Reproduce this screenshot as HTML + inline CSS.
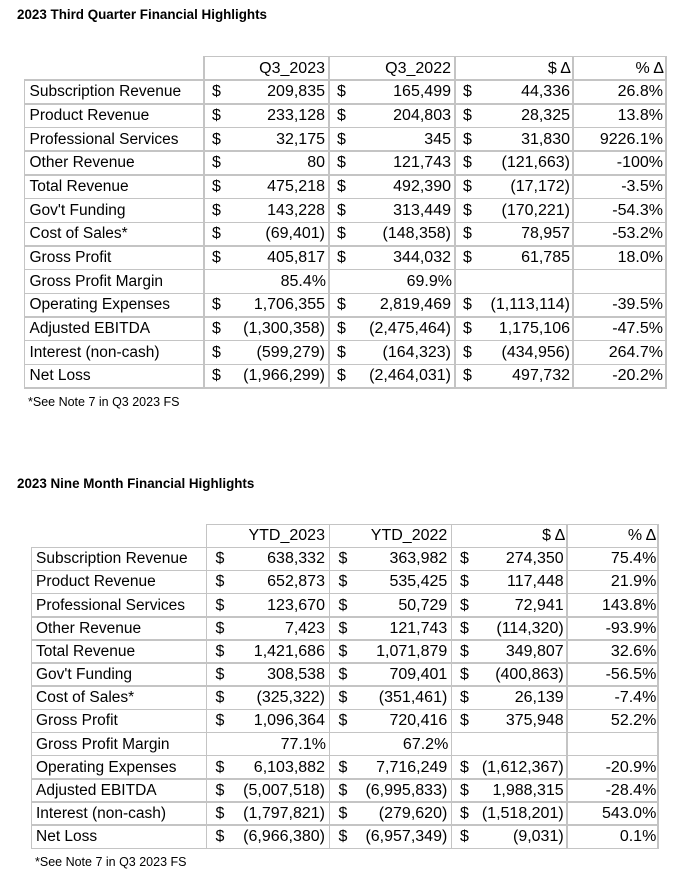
<!DOCTYPE html>
<html>
<head>
<meta charset="utf-8">
<style>
html,body{margin:0;padding:0;background:#fff;}
body{width:686px;height:878px;position:relative;overflow:hidden;font-family:"Liberation Sans",Arial,sans-serif;color:#000;}
.title{position:absolute;left:17px;font-weight:bold;font-size:13.4px;line-height:16px;white-space:nowrap;color:#000;}
.note{position:absolute;font-size:12.5px;line-height:16px;white-space:nowrap;color:#000;}
.hl{position:absolute;height:1.5px;background:#c4c4c4;}
.vl{position:absolute;width:1.5px;background:#c4c4c4;}
.row{position:absolute;left:0;width:686px;}
.row span{position:absolute;top:0;white-space:nowrap;font-size:16px;}
.row span.a{font-size:15.5px;}
.row span.r{text-align:right;}
.q{padding-right:5.3px;}
/* table 1 */
.T1 .a{left:29.5px;}
.T1 .s1{left:212px;}
.T1 .n1{left:204px;width:121px;}
.T1 .s2{left:337px;}
.T1 .n2{left:329px;width:122px;}
.T1 .s3{left:463px;}
.T1 .n3{left:455px;width:115px;}
.T1 .p{left:573px;width:90px;}
.T1 .h3{left:455px;width:116px;}
.T1 .h4{left:573px;width:91px;}
.T1 .row{height:23.68px;line-height:23.68px;}
/* table 2 */
.T2 .a{left:36px;}
.T2 .s1{left:215.5px;}
.T2 .n1{left:206.7px;width:118.3px;}
.T2 .s2{left:338.5px;}
.T2 .n2{left:329.5px;width:117.8px;}
.T2 .s3{left:460px;}
.T2 .n3{left:451.3px;width:112.4px;}
.T2 .p{left:567px;width:89.3px;}
.T2 .h3{left:451.3px;width:114px;}
.T2 .h4{left:567px;width:89.3px;}
.T2 .row{height:23.15px;line-height:23.15px;}
</style>
</head>
<body>

<div class="title" style="top:7px;">2023 Third Quarter Financial Highlights</div>

<div class="T1">
  <div class="hl" style="top:55.75px;left:203.25px;width:463.5px;"></div>
  <div class="hl" style="top:79.43px;left:23.75px;width:643px;"></div>
  <div class="hl" style="top:103.11px;left:23.75px;width:643px;"></div>
  <div class="hl" style="top:126.79px;left:23.75px;width:643px;"></div>
  <div class="hl" style="top:150.47px;left:23.75px;width:643px;"></div>
  <div class="hl" style="top:174.15px;left:23.75px;width:643px;"></div>
  <div class="hl" style="top:197.83px;left:23.75px;width:643px;"></div>
  <div class="hl" style="top:221.51px;left:23.75px;width:643px;"></div>
  <div class="hl" style="top:245.19px;left:23.75px;width:643px;"></div>
  <div class="hl" style="top:268.87px;left:23.75px;width:643px;"></div>
  <div class="hl" style="top:292.55px;left:23.75px;width:643px;"></div>
  <div class="hl" style="top:316.23px;left:23.75px;width:643px;"></div>
  <div class="hl" style="top:339.91px;left:23.75px;width:643px;"></div>
  <div class="hl" style="top:363.59px;left:23.75px;width:643px;"></div>
  <div class="hl" style="top:387.27px;left:23.75px;width:643px;"></div>
  <div class="vl" style="left:23.75px;top:80.18px;height:308.6px;"></div>
  <div class="vl" style="left:203.25px;top:56.5px;height:332.3px;"></div>
  <div class="vl" style="left:328.25px;top:56.5px;height:332.3px;"></div>
  <div class="vl" style="left:454.25px;top:56.5px;height:332.3px;"></div>
  <div class="vl" style="left:572.25px;top:56.5px;height:332.3px;"></div>
  <div class="vl" style="left:665.25px;top:56.5px;height:332.3px;"></div>

  <div class="row" style="top:56.5px;"><span class="r n1">Q3_2023</span><span class="r n2">Q3_2022</span><span class="r h3">$ Δ</span><span class="r h4">% Δ</span></div>
  <div class="row" style="top:80.18px;"><span class="a">Subscription Revenue</span><span class="s1">$</span><span class="r n1 q">209,835</span><span class="s2">$</span><span class="r n2 q">165,499</span><span class="s3">$</span><span class="r n3 q">44,336</span><span class="r p">26.8%</span></div>
  <div class="row" style="top:103.86px;"><span class="a">Product Revenue</span><span class="s1">$</span><span class="r n1 q">233,128</span><span class="s2">$</span><span class="r n2 q">204,803</span><span class="s3">$</span><span class="r n3 q">28,325</span><span class="r p">13.8%</span></div>
  <div class="row" style="top:127.54px;"><span class="a">Professional Services</span><span class="s1">$</span><span class="r n1 q">32,175</span><span class="s2">$</span><span class="r n2 q">345</span><span class="s3">$</span><span class="r n3 q">31,830</span><span class="r p">9226.1%</span></div>
  <div class="row" style="top:151.22px;"><span class="a">Other Revenue</span><span class="s1">$</span><span class="r n1 q">80</span><span class="s2">$</span><span class="r n2 q">121,743</span><span class="s3">$</span><span class="r n3">(121,663)</span><span class="r p">-100%</span></div>
  <div class="row" style="top:174.9px;"><span class="a">Total Revenue</span><span class="s1">$</span><span class="r n1 q">475,218</span><span class="s2">$</span><span class="r n2 q">492,390</span><span class="s3">$</span><span class="r n3">(17,172)</span><span class="r p">-3.5%</span></div>
  <div class="row" style="top:198.58px;"><span class="a">Gov't Funding</span><span class="s1">$</span><span class="r n1 q">143,228</span><span class="s2">$</span><span class="r n2 q">313,449</span><span class="s3">$</span><span class="r n3">(170,221)</span><span class="r p">-54.3%</span></div>
  <div class="row" style="top:222.26px;"><span class="a">Cost of Sales*</span><span class="s1">$</span><span class="r n1">(69,401)</span><span class="s2">$</span><span class="r n2">(148,358)</span><span class="s3">$</span><span class="r n3 q">78,957</span><span class="r p">-53.2%</span></div>
  <div class="row" style="top:245.94px;"><span class="a">Gross Profit</span><span class="s1">$</span><span class="r n1 q">405,817</span><span class="s2">$</span><span class="r n2 q">344,032</span><span class="s3">$</span><span class="r n3 q">61,785</span><span class="r p">18.0%</span></div>
  <div class="row" style="top:269.62px;"><span class="a">Gross Profit Margin</span><span class="r n1" style="width:122px;">85.4%</span><span class="r n2" style="width:123px;">69.9%</span></div>
  <div class="row" style="top:293.3px;"><span class="a">Operating Expenses</span><span class="s1">$</span><span class="r n1 q">1,706,355</span><span class="s2">$</span><span class="r n2 q">2,819,469</span><span class="s3">$</span><span class="r n3">(1,113,114)</span><span class="r p">-39.5%</span></div>
  <div class="row" style="top:316.98px;"><span class="a">Adjusted EBITDA</span><span class="s1">$</span><span class="r n1">(1,300,358)</span><span class="s2">$</span><span class="r n2">(2,475,464)</span><span class="s3">$</span><span class="r n3 q">1,175,106</span><span class="r p">-47.5%</span></div>
  <div class="row" style="top:340.66px;"><span class="a">Interest (non-cash)</span><span class="s1">$</span><span class="r n1">(599,279)</span><span class="s2">$</span><span class="r n2">(164,323)</span><span class="s3">$</span><span class="r n3">(434,956)</span><span class="r p">264.7%</span></div>
  <div class="row" style="top:364.34px;"><span class="a">Net Loss</span><span class="s1">$</span><span class="r n1">(1,966,299)</span><span class="s2">$</span><span class="r n2">(2,464,031)</span><span class="s3">$</span><span class="r n3 q">497,732</span><span class="r p">-20.2%</span></div>
</div>

<div class="note" style="left:28px;top:394px;">*See Note 7 in Q3 2023 FS</div>

<div class="title" style="top:476px;">2023 Nine Month Financial Highlights</div>

<div class="T2">
  <div class="hl" style="top:523.55px;left:205.95px;width:452.8px;"></div>
  <div class="hl" style="top:546.55px;left:30.95px;width:627.8px;"></div>
  <div class="hl" style="top:569.7px;left:30.95px;width:627.8px;"></div>
  <div class="hl" style="top:592.85px;left:30.95px;width:627.8px;"></div>
  <div class="hl" style="top:616px;left:30.95px;width:627.8px;"></div>
  <div class="hl" style="top:639.15px;left:30.95px;width:627.8px;"></div>
  <div class="hl" style="top:662.3px;left:30.95px;width:627.8px;"></div>
  <div class="hl" style="top:685.45px;left:30.95px;width:627.8px;"></div>
  <div class="hl" style="top:708.6px;left:30.95px;width:627.8px;"></div>
  <div class="hl" style="top:731.75px;left:30.95px;width:627.8px;"></div>
  <div class="hl" style="top:754.9px;left:30.95px;width:627.8px;"></div>
  <div class="hl" style="top:778.05px;left:30.95px;width:627.8px;"></div>
  <div class="hl" style="top:801.2px;left:30.95px;width:627.8px;"></div>
  <div class="hl" style="top:824.35px;left:30.95px;width:627.8px;"></div>
  <div class="hl" style="top:847.5px;left:30.95px;width:627.8px;"></div>
  <div class="vl" style="left:30.95px;top:547.3px;height:301.7px;"></div>
  <div class="vl" style="left:205.95px;top:524.3px;height:324.7px;"></div>
  <div class="vl" style="left:328.75px;top:524.3px;height:324.7px;"></div>
  <div class="vl" style="left:450.55px;top:524.3px;height:324.7px;"></div>
  <div class="vl" style="left:566.25px;top:524.3px;height:324.7px;"></div>
  <div class="vl" style="left:657.25px;top:524.3px;height:324.7px;"></div>

  <div class="row" style="top:524.3px;height:23px;line-height:23px;"><span class="r n1">YTD_2023</span><span class="r n2">YTD_2022</span><span class="r h3">$ Δ</span><span class="r h4">% Δ</span></div>
  <div class="row" style="top:547.3px;"><span class="a">Subscription Revenue</span><span class="s1">$</span><span class="r n1 q">638,332</span><span class="s2">$</span><span class="r n2 q">363,982</span><span class="s3">$</span><span class="r n3 q">274,350</span><span class="r p">75.4%</span></div>
  <div class="row" style="top:570.45px;"><span class="a">Product Revenue</span><span class="s1">$</span><span class="r n1 q">652,873</span><span class="s2">$</span><span class="r n2 q">535,425</span><span class="s3">$</span><span class="r n3 q">117,448</span><span class="r p">21.9%</span></div>
  <div class="row" style="top:593.6px;"><span class="a">Professional Services</span><span class="s1">$</span><span class="r n1 q">123,670</span><span class="s2">$</span><span class="r n2 q">50,729</span><span class="s3">$</span><span class="r n3 q">72,941</span><span class="r p">143.8%</span></div>
  <div class="row" style="top:616.75px;"><span class="a">Other Revenue</span><span class="s1">$</span><span class="r n1 q">7,423</span><span class="s2">$</span><span class="r n2 q">121,743</span><span class="s3">$</span><span class="r n3">(114,320)</span><span class="r p">-93.9%</span></div>
  <div class="row" style="top:639.9px;"><span class="a">Total Revenue</span><span class="s1">$</span><span class="r n1 q">1,421,686</span><span class="s2">$</span><span class="r n2 q">1,071,879</span><span class="s3">$</span><span class="r n3 q">349,807</span><span class="r p">32.6%</span></div>
  <div class="row" style="top:663.05px;"><span class="a">Gov't Funding</span><span class="s1">$</span><span class="r n1 q">308,538</span><span class="s2">$</span><span class="r n2 q">709,401</span><span class="s3">$</span><span class="r n3">(400,863)</span><span class="r p">-56.5%</span></div>
  <div class="row" style="top:686.2px;"><span class="a">Cost of Sales*</span><span class="s1">$</span><span class="r n1">(325,322)</span><span class="s2">$</span><span class="r n2">(351,461)</span><span class="s3">$</span><span class="r n3 q">26,139</span><span class="r p">-7.4%</span></div>
  <div class="row" style="top:709.35px;"><span class="a">Gross Profit</span><span class="s1">$</span><span class="r n1 q">1,096,364</span><span class="s2">$</span><span class="r n2 q">720,416</span><span class="s3">$</span><span class="r n3 q">375,948</span><span class="r p">52.2%</span></div>
  <div class="row" style="top:732.5px;"><span class="a">Gross Profit Margin</span><span class="r n1" style="width:119.3px;">77.1%</span><span class="r n2" style="width:118.8px;">67.2%</span></div>
  <div class="row" style="top:755.65px;"><span class="a">Operating Expenses</span><span class="s1">$</span><span class="r n1 q">6,103,882</span><span class="s2">$</span><span class="r n2 q">7,716,249</span><span class="s3">$</span><span class="r n3">(1,612,367)</span><span class="r p">-20.9%</span></div>
  <div class="row" style="top:778.8px;"><span class="a">Adjusted EBITDA</span><span class="s1">$</span><span class="r n1">(5,007,518)</span><span class="s2">$</span><span class="r n2">(6,995,833)</span><span class="s3">$</span><span class="r n3 q">1,988,315</span><span class="r p">-28.4%</span></div>
  <div class="row" style="top:801.95px;"><span class="a">Interest (non-cash)</span><span class="s1">$</span><span class="r n1">(1,797,821)</span><span class="s2">$</span><span class="r n2">(279,620)</span><span class="s3">$</span><span class="r n3">(1,518,201)</span><span class="r p">543.0%</span></div>
  <div class="row" style="top:825.1px;"><span class="a">Net Loss</span><span class="s1">$</span><span class="r n1">(6,966,380)</span><span class="s2">$</span><span class="r n2">(6,957,349)</span><span class="s3">$</span><span class="r n3">(9,031)</span><span class="r p">0.1%</span></div>
</div>

<div class="note" style="left:35px;top:853.5px;">*See Note 7 in Q3 2023 FS</div>

</body>
</html>
